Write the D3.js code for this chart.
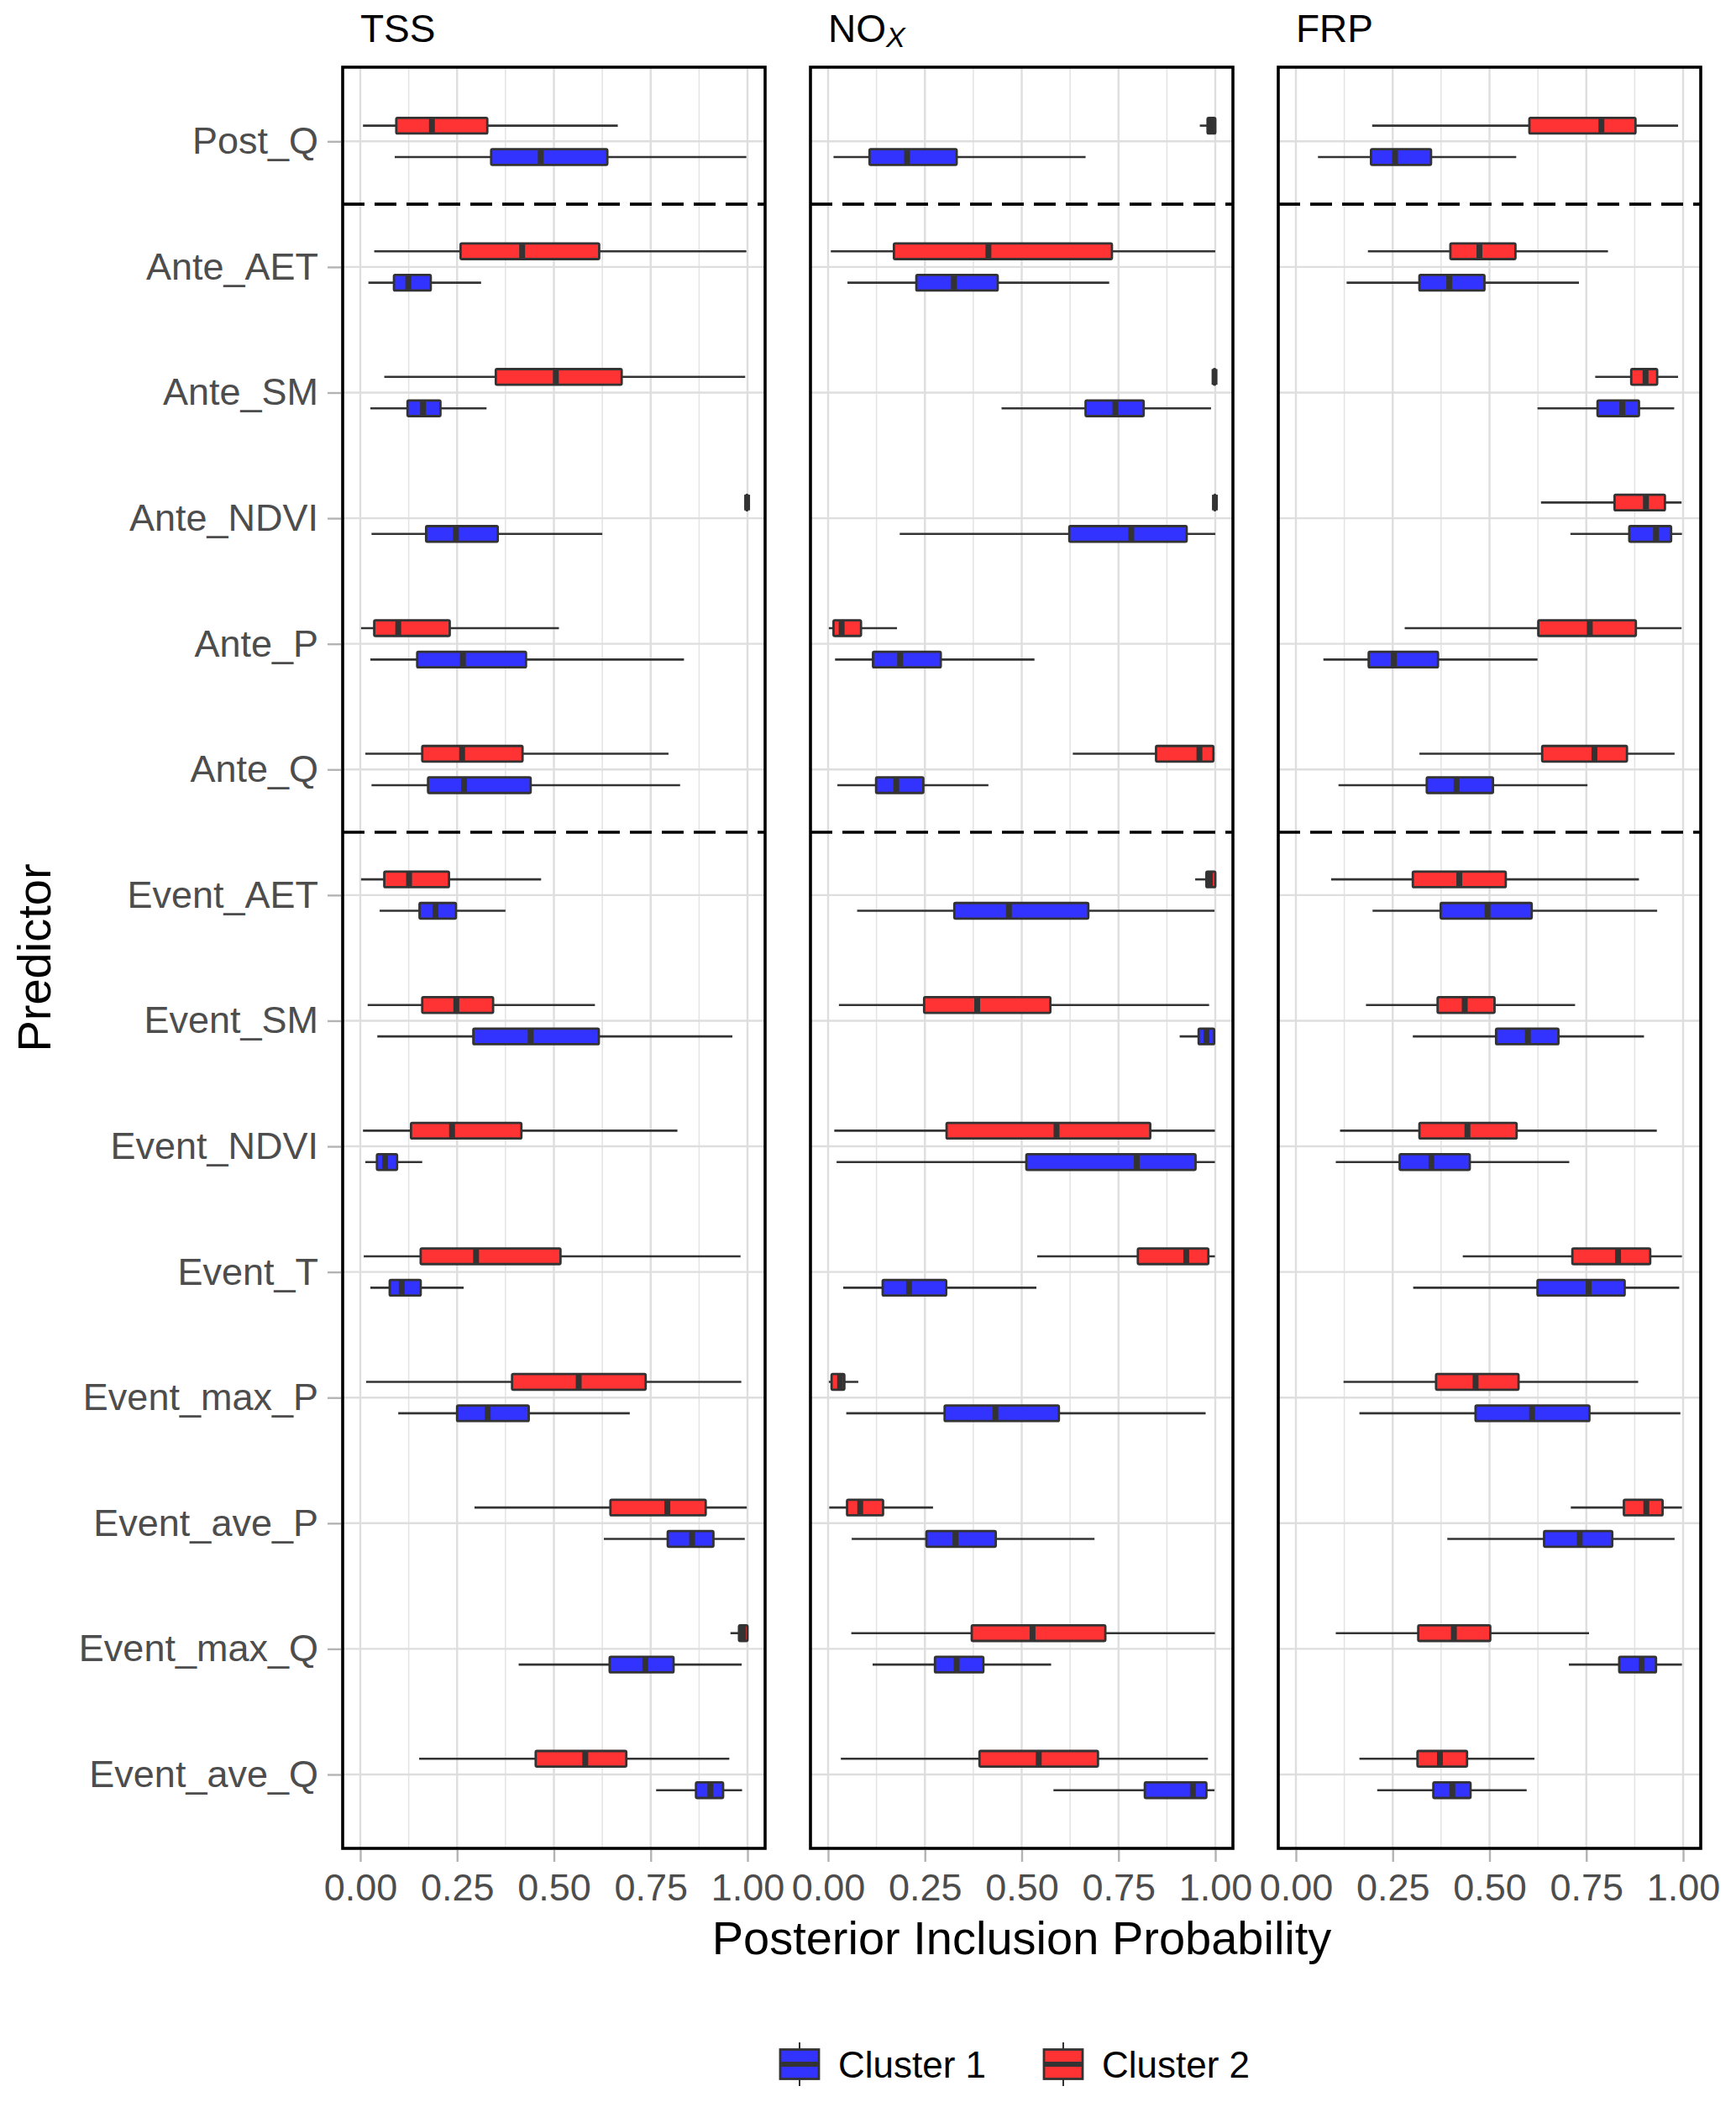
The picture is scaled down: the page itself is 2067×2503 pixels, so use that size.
<!DOCTYPE html>
<html>
<head>
<meta charset="utf-8">
<script src="https://d3js.org/d3.v7.min.js"></script>
<style>
body { margin: 0; background: #ffffff; }
text { font-family: "Liberation Sans", Arial, Helvetica, sans-serif; }
</style>
</head>
<body>
<div id="chart"></div>
<script>

// Predictors, top to bottom
var predictors = ["Post_Q", "Ante_AET", "Ante_SM", "Ante_NDVI", "Ante_P", "Ante_Q",
    "Event_AET", "Event_SM", "Event_NDVI", "Event_T", "Event_max_P", "Event_ave_P",
    "Event_max_Q", "Event_ave_Q"];

// first predictor of each new group (dashed separator drawn above it)
var groupStarts = ["Ante_AET", "Event_AET"];

var clusters = ["Cluster 1", "Cluster 2"];
var clusterColors = ["#3333ff", "#ff3333"];

var xTicks = [0, 0.25, 0.5, 0.75, 1];
var xMinor = [0.125, 0.375, 0.625, 0.875];

// [lower whisker, q1, median, q3, upper whisker], one row per predictor
var tssCluster1 = [
    [0.089, 0.338, 0.466, 0.638, 0.997],
    [0.021, 0.087, 0.124, 0.182, 0.312],
    [0.026, 0.122, 0.162, 0.207, 0.326],
    [0.029, 0.170, 0.247, 0.355, 0.625],
    [0.026, 0.147, 0.265, 0.428, 0.836],
    [0.029, 0.175, 0.268, 0.440, 0.826],
    [0.050, 0.153, 0.194, 0.247, 0.375],
    [0.044, 0.292, 0.440, 0.616, 0.961],
    [0.013, 0.043, 0.064, 0.095, 0.160],
    [0.026, 0.076, 0.107, 0.156, 0.267],
    [0.098, 0.250, 0.329, 0.435, 0.696],
    [0.629, 0.794, 0.857, 0.912, 0.993],
    [0.409, 0.644, 0.736, 0.809, 0.985],
    [0.764, 0.867, 0.904, 0.937, 0.986]
];
var tssCluster2 = [
    [0.007, 0.093, 0.185, 0.328, 0.665],
    [0.036, 0.259, 0.418, 0.617, 0.997],
    [0.062, 0.350, 0.505, 0.675, 0.994],
    [0.995, 0.997, 0.999, 1.000, 1.000],
    [0.002, 0.036, 0.098, 0.231, 0.513],
    [0.013, 0.160, 0.263, 0.419, 0.796],
    [0.002, 0.062, 0.126, 0.229, 0.467],
    [0.019, 0.160, 0.248, 0.343, 0.606],
    [0.007, 0.131, 0.237, 0.416, 0.819],
    [0.009, 0.156, 0.299, 0.517, 0.982],
    [0.015, 0.392, 0.564, 0.737, 0.984],
    [0.295, 0.646, 0.793, 0.892, 0.998],
    [0.956, 0.978, 0.988, 1.000, 1.000],
    [0.152, 0.453, 0.581, 0.687, 0.953]
];
var noxCluster1 = [
    [0.014, 0.107, 0.204, 0.332, 0.665],
    [0.050, 0.228, 0.325, 0.438, 0.726],
    [0.448, 0.665, 0.742, 0.815, 0.989],
    [0.185, 0.623, 0.783, 0.926, 1.000],
    [0.018, 0.116, 0.186, 0.291, 0.533],
    [0.024, 0.124, 0.176, 0.246, 0.414],
    [0.075, 0.326, 0.467, 0.672, 0.998],
    [0.908, 0.957, 0.977, 0.997, 0.998],
    [0.022, 0.512, 0.797, 0.949, 0.999],
    [0.039, 0.141, 0.209, 0.305, 0.538],
    [0.047, 0.301, 0.432, 0.596, 0.975],
    [0.061, 0.254, 0.329, 0.433, 0.688],
    [0.115, 0.276, 0.332, 0.401, 0.576],
    [0.582, 0.818, 0.942, 0.977, 0.998]
];
var noxCluster2 = [
    [0.960, 0.980, 0.990, 1.000, 1.000],
    [0.007, 0.170, 0.414, 0.733, 1.000],
    [0.994, 0.996, 0.998, 1.000, 1.000],
    [0.997, 0.998, 0.999, 1.000, 1.000],
    [0.002, 0.014, 0.035, 0.085, 0.178],
    [0.632, 0.847, 0.959, 0.995, 0.998],
    [0.948, 0.977, 0.986, 1.000, 1.000],
    [0.028, 0.248, 0.385, 0.574, 0.984],
    [0.016, 0.306, 0.590, 0.832, 0.999],
    [0.540, 0.800, 0.925, 0.982, 0.999],
    [0.002, 0.009, 0.031, 0.042, 0.078],
    [0.003, 0.049, 0.083, 0.142, 0.271],
    [0.060, 0.371, 0.528, 0.716, 0.999],
    [0.033, 0.391, 0.544, 0.697, 0.981]
];
var frpCluster1 = [
    [0.057, 0.194, 0.256, 0.349, 0.569],
    [0.131, 0.319, 0.396, 0.487, 0.731],
    [0.624, 0.779, 0.843, 0.886, 0.977],
    [0.709, 0.861, 0.930, 0.969, 0.997],
    [0.071, 0.188, 0.253, 0.367, 0.624],
    [0.110, 0.338, 0.415, 0.509, 0.753],
    [0.198, 0.374, 0.495, 0.609, 0.933],
    [0.302, 0.517, 0.599, 0.678, 0.899],
    [0.103, 0.268, 0.350, 0.449, 0.706],
    [0.303, 0.624, 0.756, 0.849, 0.990],
    [0.164, 0.464, 0.610, 0.758, 0.993],
    [0.391, 0.641, 0.733, 0.817, 0.978],
    [0.705, 0.835, 0.893, 0.930, 0.997],
    [0.210, 0.355, 0.404, 0.451, 0.596]
];
var frpCluster2 = [
    [0.197, 0.603, 0.789, 0.877, 0.987],
    [0.186, 0.399, 0.474, 0.567, 0.806],
    [0.773, 0.866, 0.903, 0.933, 0.987],
    [0.633, 0.823, 0.904, 0.953, 0.996],
    [0.281, 0.626, 0.759, 0.878, 0.996],
    [0.319, 0.636, 0.771, 0.855, 0.978],
    [0.091, 0.302, 0.422, 0.542, 0.886],
    [0.181, 0.366, 0.436, 0.513, 0.721],
    [0.114, 0.319, 0.443, 0.570, 0.932],
    [0.431, 0.714, 0.832, 0.915, 0.997],
    [0.123, 0.362, 0.464, 0.575, 0.884],
    [0.710, 0.847, 0.905, 0.947, 0.997],
    [0.103, 0.316, 0.408, 0.502, 0.757],
    [0.164, 0.314, 0.372, 0.442, 0.616]
];

var panelNames = ["TSS", "NO", "FRP"];
var panelSubs = ["", "X", ""];
var panelData = [[tssCluster1, tssCluster2], [noxCluster1, noxCluster2], [frpCluster1, frpCluster2]];

var W = 2067, H = 2503;
var panelTop = 80, panelBottom = 2201, panelW = 503;
var panelLeft0 = 408, panelGap = 54;
var boxH = 18.6, dodge = 18.7;
var lineColor = "#333333";
var svg, x, y;

init();

function init() {
    svg = d3.select("#chart").append("svg")
        .attr("xmlns", "http://www.w3.org/2000/svg")
        .attr("width", W)
        .attr("height", H);

    svg.append("rect").attr("width", W).attr("height", H).attr("fill", "#ffffff");

    x = d3.scaleLinear().domain([-0.0455, 1.0455]).range([0, panelW]);
    y = d3.scalePoint().domain(predictors).range([168.3, 2113]);

    for (var i = 0; i < panelNames.length; i++) {
        drawPanel(i);
    }

    drawTitles();
    drawLegend();
}

function drawPanel(i) {
    var left = panelLeft0 + i * (panelW + panelGap);
    var g = svg.append("g").attr("transform", "translate(" + left + "," + 0 + ")");
    var step = y.step();

    //Grid
    g.selectAll(".minor").data(xMinor).enter().append("line")
        .attr("x1", function (d) { return x(d); })
        .attr("x2", function (d) { return x(d); })
        .attr("y1", panelTop).attr("y2", panelBottom)
        .attr("stroke", "#e3e3e3").attr("stroke-width", 1.5);
    g.selectAll(".major").data(xTicks).enter().append("line")
        .attr("x1", function (d) { return x(d); })
        .attr("x2", function (d) { return x(d); })
        .attr("y1", panelTop).attr("y2", panelBottom)
        .attr("stroke", "#dedede").attr("stroke-width", 2.4);
    g.selectAll(".hgrid").data(predictors).enter().append("line")
        .attr("x1", 0).attr("x2", panelW)
        .attr("y1", function (d) { return y(d); })
        .attr("y2", function (d) { return y(d); })
        .attr("stroke", "#dedede").attr("stroke-width", 2.4);

    //Boxes, cluster 2 above the line, cluster 1 below
    for (var c = 0; c < clusters.length; c++) {
        var rows = panelData[i][c];
        var off = c == 0 ? dodge : -dodge;
        var bg = g.append("g").attr("class", "cluster" + c);

        bg.selectAll(".whisker").data(rows).enter().append("line")
            .attr("x1", function (d) { return x(d[0]); })
            .attr("x2", function (d) { return x(d[4]); })
            .attr("y1", function (d, k) { return y(predictors[k]) + off; })
            .attr("y2", function (d, k) { return y(predictors[k]) + off; })
            .attr("stroke", lineColor).attr("stroke-width", 2.6);

        bg.selectAll(".box").data(rows).enter().append("rect")
            .attr("x", function (d) { return x(d[1]); })
            .attr("width", function (d) { return Math.max(x(d[3]) - x(d[1]), 0.5); })
            .attr("y", function (d, k) { return y(predictors[k]) + off - boxH / 2; })
            .attr("height", boxH)
            .attr("rx", 1.5)
            .attr("fill", clusterColors[c])
            .attr("stroke", lineColor).attr("stroke-width", 2.8);

        bg.selectAll(".median").data(rows).enter().append("line")
            .attr("x1", function (d) { return x(d[2]); })
            .attr("x2", function (d) { return x(d[2]); })
            .attr("y1", function (d, k) { return y(predictors[k]) + off - boxH / 2; })
            .attr("y2", function (d, k) { return y(predictors[k]) + off + boxH / 2; })
            .attr("stroke", lineColor).attr("stroke-width", 7);
    }

    //Dashed group separators
    g.selectAll(".sep").data(groupStarts).enter().append("line")
        .attr("x1", 0).attr("x2", panelW)
        .attr("y1", function (d) { return y(d) - step / 2; })
        .attr("y2", function (d) { return y(d) - step / 2; })
        .attr("stroke", "#000000").attr("stroke-width", 3.6)
        .attr("stroke-dasharray", "26,12");

    //Panel border
    g.append("rect")
        .attr("x", 0).attr("y", panelTop)
        .attr("width", panelW).attr("height", panelBottom - panelTop)
        .attr("fill", "none").attr("stroke", "#000000").attr("stroke-width", 3.6);

    //X axis
    var xAxis = d3.axisBottom(x).tickValues(xTicks).tickFormat(d3.format(".2f"))
        .tickSize(14).tickPadding(14);
    var ax = g.append("g").attr("transform", "translate(0," + (panelBottom + 2) + ")").call(xAxis);
    styleAxis(ax);

    //Y axis only on first panel
    if (i == 0) {
        var yAxis = d3.axisLeft(y).tickSize(16).tickPadding(11);
        var ay = g.append("g").attr("transform", "translate(-2,0)").call(yAxis);
        styleAxis(ay);
    }

    //Strip title
    var t = g.append("text")
        .attr("x", x(0))
        .attr("y", 50)
        .attr("font-size", 46)
        .attr("fill", "#000000")
        .text(panelNames[i]);
    if (panelSubs[i]) {
        t.append("tspan")
            .attr("font-size", 34)
            .attr("font-style", "italic")
            .attr("dy", 6)
            .text(panelSubs[i]);
    }
}

function styleAxis(a) {
    a.select(".domain").remove();
    a.selectAll(".tick line").attr("stroke", "#b3b3b3").attr("stroke-width", 2.4);
    a.selectAll(".tick text")
        .attr("font-size", 45)
        .attr("fill", "#4d4d4d")
        .style("font-family", "'Liberation Sans', Arial, Helvetica, sans-serif");
}

function drawTitles() {
    var firstLeft = panelLeft0;
    var lastRight = panelLeft0 + 2 * (panelW + panelGap) + panelW;

    svg.append("text")
        .attr("x", (firstLeft + lastRight) / 2)
        .attr("y", 2327)
        .attr("text-anchor", "middle")
        .attr("font-size", 56)
        .attr("fill", "#000000")
        .text("Posterior Inclusion Probability");

    svg.append("text")
        .attr("transform", "translate(60," + ((panelTop + panelBottom) / 2) + ") rotate(-90)")
        .attr("text-anchor", "middle")
        .attr("font-size", 56)
        .attr("fill", "#000000")
        .text("Predictor");
}

function drawLegend() {
    var keyW = 46, keyH = 35, itemStep = 314;
    var startX = 929, midY = 2458;

    var items = svg.append("g").attr("class", "legend")
        .selectAll("g").data(clusters).enter().append("g")
        .attr("transform", function (d, k) { return "translate(" + (startX + k * itemStep) + "," + midY + ")"; });

    items.append("line")
        .attr("x1", keyW / 2).attr("x2", keyW / 2)
        .attr("y1", -26).attr("y2", 26)
        .attr("stroke", lineColor).attr("stroke-width", 2);
    items.append("rect")
        .attr("x", 0).attr("y", -keyH / 2)
        .attr("width", keyW).attr("height", keyH)
        .attr("fill", function (d, k) { return clusterColors[k]; })
        .attr("stroke", lineColor).attr("stroke-width", 2.8);
    items.append("line")
        .attr("x1", 0).attr("x2", keyW)
        .attr("y1", 0).attr("y2", 0)
        .attr("stroke", lineColor).attr("stroke-width", 6);
    items.append("text")
        .attr("x", keyW + 23)
        .attr("y", 16)
        .attr("font-size", 44)
        .attr("fill", "#000000")
        .text(function (d) { return d; });
}
</script>
</body>
</html>
